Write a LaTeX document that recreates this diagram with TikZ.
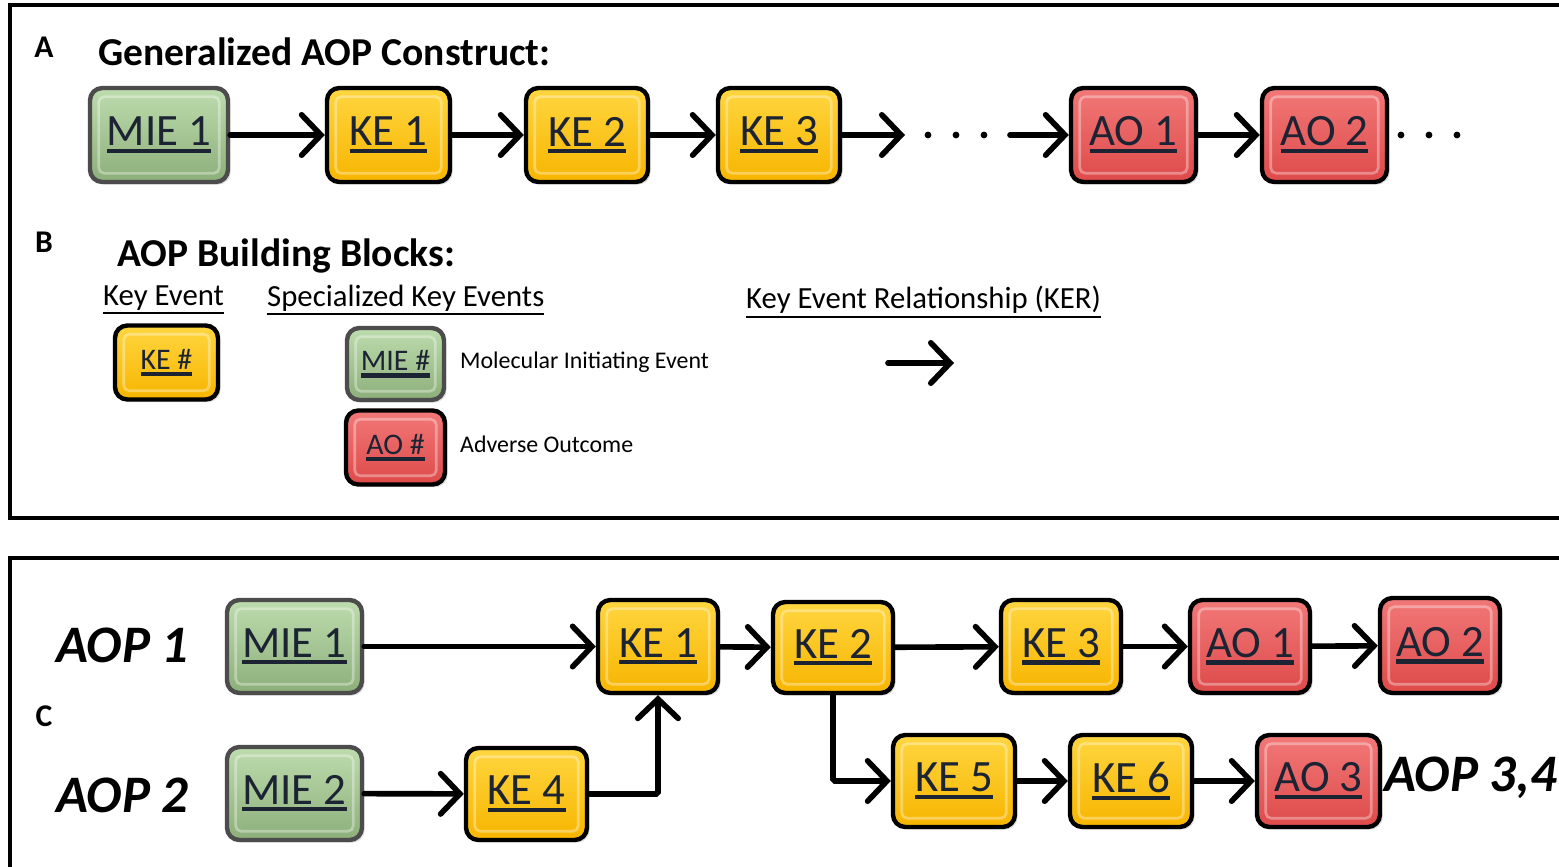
\documentclass[tikz,border=0pt]{standalone}
\usepackage{fontspec}
\setmainfont{Carlito}
\usepackage{tikz}
\usetikzlibrary{arrows.meta,shadows}

\definecolor{keTop}{HTML}{FFD640}
\definecolor{keBot}{HTML}{F7B500}
\definecolor{mieTop}{HTML}{BEDCAE}
\definecolor{mieBot}{HTML}{8CAF7A}
\definecolor{aoTop}{HTML}{F27878}
\definecolor{aoBot}{HTML}{DE4A4A}
\definecolor{evText}{HTML}{1C2333}

% thick underline for the event labels
\newcommand{\evul}[1]{\setbox0\hbox{#1}\vtop{\copy0\kern1.5pt\hrule width\wd0 height 2.4pt}}
% thin underline for the headings
\newcommand{\hdul}[1]{\setbox0\hbox{#1}\vtop{\copy0\kern1pt\hrule width\wd0 height 1.1pt}}

\tikzset{
  evbox/.style={draw=black, line width=2.5pt, rounded corners=7pt, inner sep=0pt,
    minimum height=1.88cm, text=evText, font=\fontsize{25.5pt}{30pt}\selectfont,
    drop shadow={opacity=.25, shadow xshift=1.5pt, shadow yshift=-1.5pt},
    path picture={\draw[white, opacity=.35, line width=1.5pt, rounded corners=3pt]
      ([shift={(5pt,-5pt)}]path picture bounding box.north west) rectangle
      ([shift={(-5pt,5pt)}]path picture bounding box.south east);}},
  kebox/.style={evbox, top color=keTop, bottom color=keBot},
  miebox/.style={evbox, draw=black!70, top color=mieTop, bottom color=mieBot},
  aobox/.style={evbox, top color=aoTop, bottom color=aoBot},
  smallbox/.style={minimum height=1.48cm, font=\fontsize{17pt}{20pt}\selectfont},
  ker/.style={line width=3.2pt, line cap=round,
    -{Straight Barb[length=11pt, width=23pt, line cap=round]}},
  frame/.style={line width=2.2pt},
  panel/.style={font=\fontsize{18pt}{21pt}\selectfont\bfseries},
  heading/.style={anchor=west, font=\fontsize{22.5pt}{26pt}\selectfont\bfseries},
  sub/.style={anchor=west, font=\fontsize{17.5pt}{20pt}\selectfont},
  legend/.style={anchor=west, font=\fontsize{13.6pt}{16pt}\selectfont},
  aop/.style={anchor=west, font=\fontsize{30pt}{34pt}\selectfont\bfseries\itshape},
  dot/.style={fill=black}
}

\begin{document}
\begin{tikzpicture}[x=0.02cm, y=-0.02cm]
\useasboundingbox (0,0) rectangle (1559,866);
\clip (0,0) rectangle (1559,866);
\fill[white] (0,0) rectangle (1559,866);

\draw[frame] (10,5) rectangle (1590,518);
\draw[frame] (10,558) rectangle (1590,900);

%-------------------------------------
\node[panel] (labA) at (44,47) {A};
\node[heading] (headA) at (92,52) {Generalized AOP Construct:};

\node[miebox, minimum width=2.76cm] (mieA) at (159,135) {\evul{MIE 1}};
\node[kebox, minimum width=2.46cm] (keA1) at (388.5,135) {\evul{KE 1}};
\node[kebox, minimum width=2.44cm] (keA2) at (587,135) {\evul{KE 2}};
\node[kebox, minimum width=2.44cm] (keA3) at (779,135) {\evul{KE 3}};
\node[aobox, minimum width=2.5cm] (aoA1) at (1133.5,135) {\evul{AO 1}};
\node[aobox, minimum width=2.5cm] (aoA2) at (1324.5,135) {\evul{AO 2}};
\coordinate (gapA) at (905,135);
\coordinate (gapB) at (1010,135);

\draw[ker] (mieA) -- (keA1);
\draw[ker] (keA1) -- (keA2);
\draw[ker] (keA2) -- (keA3);
\draw[ker] (keA3) -- (gapA);
\draw[ker] (gapB) -- (aoA1);
\draw[ker] (aoA1) -- (aoA2);

\foreach \x in {928,956,984,1401,1429,1457}
  \fill[dot] (\x,135) circle (3.4);

%-------------------------------------
\node[panel] (labB) at (44,242) {B};
\node[heading] (headB) at (111,256) {AOP Building Blocks:};

\node[sub] (subKE) at (97,300) {\hdul{Key Event}};
\node[sub] (subSKE) at (261,300) {\hdul{Specialized Key Events}};
\node[sub] (subKER) at (740,302) {\hdul{Key Event Relationship (KER)}};

\node[kebox, smallbox, minimum width=2.06cm] (keB) at (166.5,362.5) {\evul{KE \#}};
\node[miebox, smallbox, minimum width=1.94cm, minimum height=1.44cm] (mieB) at (395.5,364) {\evul{MIE \#}};
\node[aobox, smallbox, minimum width=1.98cm] (aoB) at (395.5,447.5) {\evul{AO \#}};
\node[legend] (mieTxt) at (454,362) {Molecular Initiating Event};
\node[legend] (aoTxt) at (454,444) {Adverse Outcome};

\coordinate (kerS) at (888,363);
\coordinate (kerE) at (954,363);
\draw[ker] (kerS) -- (kerE);

%-------------------------------------
\node[panel] (labC) at (44,716) {C};
\node[aop] (aop1) at (50,645) {AOP 1};
\node[aop] (aop2) at (50,795) {AOP 2};

\node[miebox, minimum width=2.7cm, minimum height=1.86cm] (mieC1) at (294.5,646.5) {\evul{MIE 1}};
\node[kebox, minimum width=2.4cm, minimum height=1.86cm] (keC1) at (658,646.5) {\evul{KE 1}};
\node[kebox, minimum width=2.4cm, minimum height=1.82cm] (keC2) at (833,647.5) {\evul{KE 2}};
\node[kebox, minimum width=2.4cm, minimum height=1.86cm] (keC3) at (1061,646.5) {\evul{KE 3}};
\node[aobox, minimum width=2.4cm, minimum height=1.86cm] (aoC1) at (1250,646.5) {\evul{AO 1}};
\node[aobox, minimum width=2.4cm, minimum height=1.9cm] (aoC2) at (1440,645.5) {\evul{AO 2}};

\node[miebox, minimum width=2.7cm, minimum height=1.86cm] (mieC2) at (294.5,793.5) {\evul{MIE 2}};
\node[kebox, minimum width=2.42cm, minimum height=1.84cm] (keC4) at (526.5,794) {\evul{KE 4}};

\node[kebox, minimum width=2.44cm, minimum height=1.84cm] (keC5) at (954,781) {\evul{KE 5}};
\node[kebox, minimum width=2.44cm, minimum height=1.84cm] (keC6) at (1131,781) {\evul{KE 6}};
\node[aobox, minimum width=2.46cm, minimum height=1.84cm] (aoC3) at (1318.5,781) {\evul{AO 3}};
\node[aop] (aop34) at (1378,778) {AOP 3,4};

\draw[ker] (mieC1) -- (keC1);
\draw[ker] (keC1) -- (keC2);
\draw[ker] (keC2) -- (keC3);
\draw[ker] (keC3) -- (aoC1);
\draw[ker] (aoC1) -- (aoC2);
\draw[ker] (mieC2) -- (keC4);
\draw[ker, rounded corners=1pt] (keC4.east) -| (keC1.south);
\draw[ker, rounded corners=1pt] (keC2.south) |- (keC5.west);
\draw[ker] (keC5) -- (keC6);
\draw[ker] (keC6) -- (aoC3);
\end{tikzpicture}
\end{document}
